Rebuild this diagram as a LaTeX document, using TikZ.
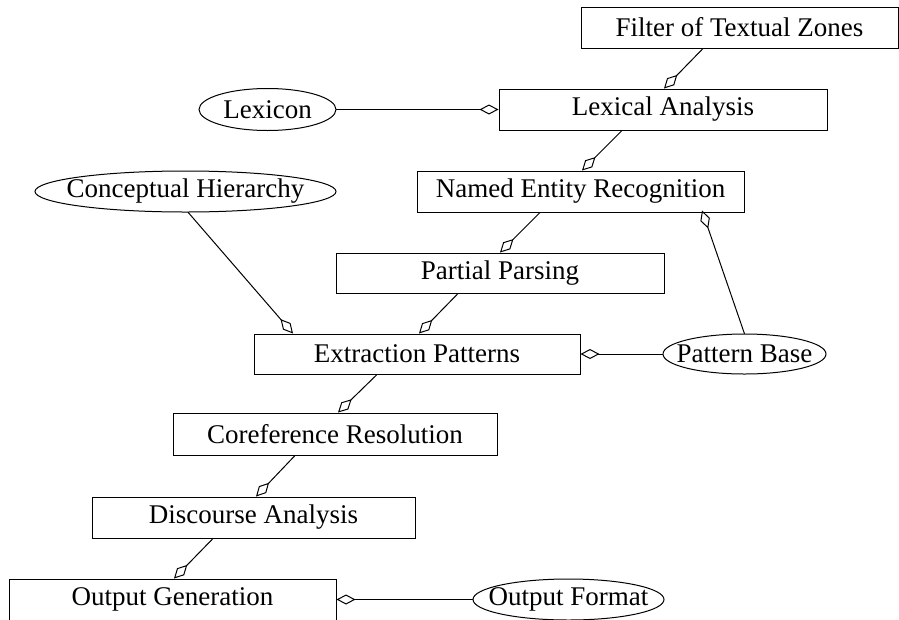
\documentclass[tikz,border=0pt]{standalone}
\usepackage{fontspec}
\setmainfont{Liberation Serif}
\usetikzlibrary{arrows.meta,shapes.geometric}
\begin{document}
\begin{tikzpicture}[x=1pt,y=-1pt,
  font=\fontsize{27}{30}\selectfont,
  box/.style={draw,line width=1pt,rectangle,inner sep=0pt,anchor=center},
  oval/.style={rectangle,inner sep=0pt,anchor=center},
  ovalline/.style={line width=1pt},
  agg/.style={line width=1pt,-{Diamond[open,length=19pt,width=10pt,line width=1pt]}}]
\useasboundingbox (0,0) rectangle (899,619);
\clip (0,0) rectangle (899,619);
\node[box,minimum width=317pt,minimum height=41pt] (filter) at (739.5,27.5) {Filter of Textual Zones};
\node[box,minimum width=328pt,minimum height=41pt] (lex) at (663,109.5) {Lexical Analysis};
\node[oval,minimum width=137pt,minimum height=42pt] (lexicon) at (267.5,109.5) {Lexicon};
\node[oval,minimum width=301pt,minimum height=41pt] (concept) at (185.5,191.5) {Conceptual Hierarchy};
\node[box,minimum width=327pt,minimum height=41pt] (ner) at (580.5,191.5) {Named Entity Recognition};
\node[box,minimum width=328pt,minimum height=40pt] (partial) at (500,273) {Partial Parsing};
\node[box,minimum width=326pt,minimum height=40pt] (extr) at (417,354) {Extraction Patterns};
\node[oval,minimum width=163pt,minimum height=40pt] (pbase) at (744.5,354) {Pattern Base};
\node[box,minimum width=324pt,minimum height=42pt] (coref) at (335,434) {Coreference Resolution};
\node[box,minimum width=323pt,minimum height=41pt] (disc) at (253.5,517.5) {Discourse Analysis};
\node[box,minimum width=327pt,minimum height=41pt] (outgen) at (172.5,599.5) {Output Generation};
\node[oval,minimum width=191pt,minimum height=41pt] (outfmt) at (568.5,599.5) {Output Format};

\draw[ovalline] (lexicon.center) ellipse [x radius=68.5pt, y radius=21pt];
\draw[ovalline] (concept.center) ellipse [x radius=150.5pt, y radius=20.5pt];
\draw[ovalline] (pbase.center) ellipse [x radius=81.5pt, y radius=20pt];
\draw[ovalline] (outfmt.center) ellipse [x radius=95.5pt, y radius=20.5pt];

\draw[agg] ([xshift=-36.5pt]filter.south) -- ([xshift=1pt]lex.north);
\draw[agg] (lexicon.east) -- (lex.west);
\draw[agg] ([xshift=-41pt]lex.south) -- ([xshift=1.5pt]ner.north);
\draw[agg] ([xshift=-40.5pt]ner.south) -- (partial.north);
\draw[agg] (pbase.north) -- ([xshift=121.5pt,yshift=2pt]ner.south);
\draw[agg] ([xshift=2.5pt]concept.south) -- ([xshift=-124pt]extr.north);
\draw[agg] ([xshift=-42pt]partial.south) -- ([xshift=2pt]extr.north);
\draw[agg] (pbase.west) -- (extr.east);
\draw[agg] ([xshift=-40pt]extr.south) -- ([xshift=3pt]coref.north);
\draw[agg] ([xshift=-40pt]coref.south) -- ([xshift=2.5pt]disc.north);
\draw[agg] ([xshift=-40.5pt]disc.south) -- ([xshift=1.5pt]outgen.north);
\draw[agg] (outfmt.west) -- (outgen.east);
\end{tikzpicture}
\end{document}
